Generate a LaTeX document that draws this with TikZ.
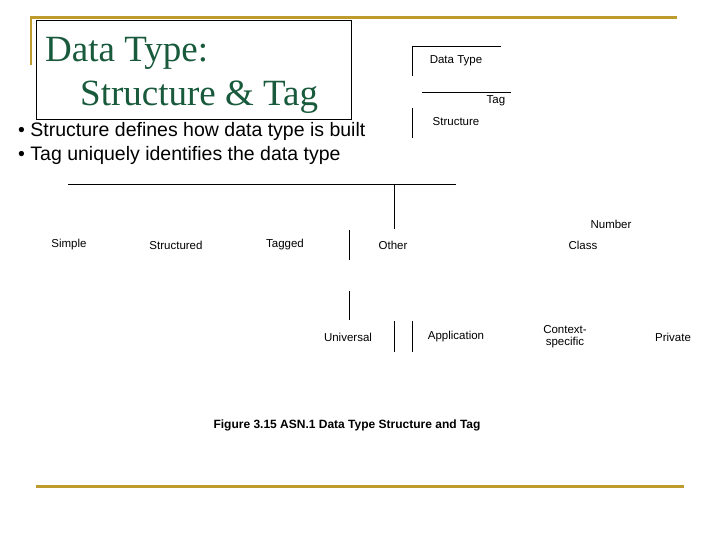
\documentclass[tikz,border=0pt]{standalone}
\usepackage{fontspec}
\setmainfont{Liberation Sans}
\newfontfamily\titlefont{Liberation Serif}
\definecolor{gold}{RGB}{190,155,45}
\definecolor{tgreen}{RGB}{25,90,60}
\begin{document}
\begin{tikzpicture}[x=1pt,y=-1pt,
  lbl/.style={font=\fontsize{11.5}{12}\selectfont, inner sep=0pt, align=center},
  ln/.style={line width=0.8pt},
  goldln/.style={gold, line width=3pt}]
\useasboundingbox (0,0) rectangle (720,540);
\draw[goldln] (30,18) -- (677,18);
\draw[gold, line width=2.5pt] (31,18) -- (31,65);
\draw[goldln] (36,486) -- (684,486);
\draw[fill=white, line width=0.6pt] (36,20) rectangle (351,119);
\node[anchor=base west, inner sep=0pt, text=tgreen, font=\titlefont\fontsize{37}{40}\selectfont] (t1) at (45,62) {Data Type:};
\node[anchor=base west, inner sep=0pt, text=tgreen, font=\titlefont\fontsize{37}{40}\selectfont] (t2) at (80,106) {Structure \& Tag};
\node[anchor=base west, inner sep=0pt, font=\fontsize{19.5}{21}\selectfont] (b1) at (18,137) {• Structure defines how data type is built};
\node[anchor=base west, inner sep=0pt, font=\fontsize{19.5}{21}\selectfont] (b2) at (18,161) {• Tag uniquely identifies the data type};
\draw[ln] (412,46) -- (501,46);
\draw[ln] (412,46) -- (412,76);
\node[lbl] (dt) at (456,61) {Data Type};
\draw[ln] (422,92) -- (511,92);
\node[lbl] (tag) at (496,101) {Tag};
\draw[ln] (412,108) -- (412,138);
\node[lbl] (st) at (456,122) {Structure};
\draw[ln] (68,184) -- (456,184);
\draw[ln] (394,184) -- (394,229);
\node[lbl] (num) at (611,224) {Number};
\node[lbl] (simple) at (69,245) {Simple};
\node[lbl] (struct) at (176,245) {Structured};
\node[lbl] (tagged) at (285,245) {Tagged};
\node[lbl] (other) at (393,245) {Other};
\node[lbl] (class) at (583,245) {Class};
\draw[ln] (349,230) -- (349,260);
\draw[ln] (349,291) -- (349,320);
\node[lbl] (univ) at (348,337) {Universal};
\draw[ln] (394,321) -- (394,352);
\draw[ln] (412,321) -- (412,352);
\node[lbl] (app) at (456,337) {Application};
\node[lbl, font=\fontsize{11.5}{12}\selectfont] (ctx) at (565,337) {Context-\\specific};
\node[lbl] (priv) at (673,337) {Private};
\node[inner sep=0pt, font=\bfseries\fontsize{12}{13}\selectfont] (cap) at (347,425) {Figure 3.15 ASN.1 Data Type Structure and Tag};
\end{tikzpicture}
\end{document}
